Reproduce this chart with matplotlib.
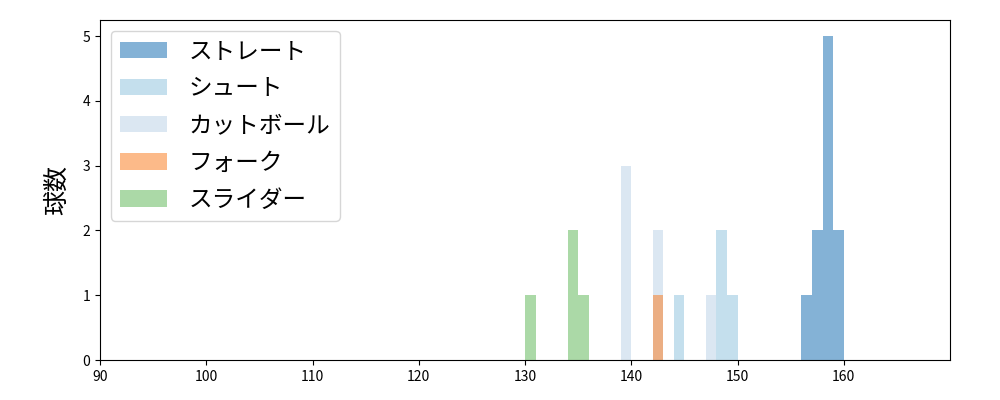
import matplotlib
matplotlib.use("Agg")
import matplotlib.pyplot as plt
import numpy as np

plt.rcParams['font.family'] = ['Noto Sans CJK JP', 'DejaVu Sans']

labels = ["ストレート", "シュート", "カットボール", "フォーク", "スライダー"]
colors = ["#0b67af", "#8bc1dd", "#b9d1e7", "#fb7715", "#59b551"]
speeds = {
    "ストレート": [156, 157, 157, 158, 158, 158, 158, 158, 159, 159],
    "シュート": [144, 148, 148, 149],
    "カットボール": [139, 139, 139, 142, 142, 147],
    "フォーク": [142],
    "スライダー": [130, 134, 134, 135],
}

fig, ax = plt.subplots(figsize=(10, 4), dpi=100)
fig.subplots_adjust(left=0.1, right=0.95, top=0.95, bottom=0.1)

bins = np.arange(90, 171, 1)
for lab, col in zip(labels, colors):
    ax.hist(speeds[lab], bins=bins, color=col, alpha=0.5, label=lab)

ax.set_xlim(90, 170)
ax.set_ylim(0, 5.25)
ax.set_xticks(np.arange(90, 161, 10))
ax.set_yticks(np.arange(0, 6, 1))
ax.set_ylabel("球数", fontsize=18, labelpad=9)
ax.legend(loc="upper left", fontsize=17, handlelength=2.0, handletextpad=0.9,
          borderaxespad=0.45, labelspacing=0.6)

fig.savefig("out.png", dpi=100)
